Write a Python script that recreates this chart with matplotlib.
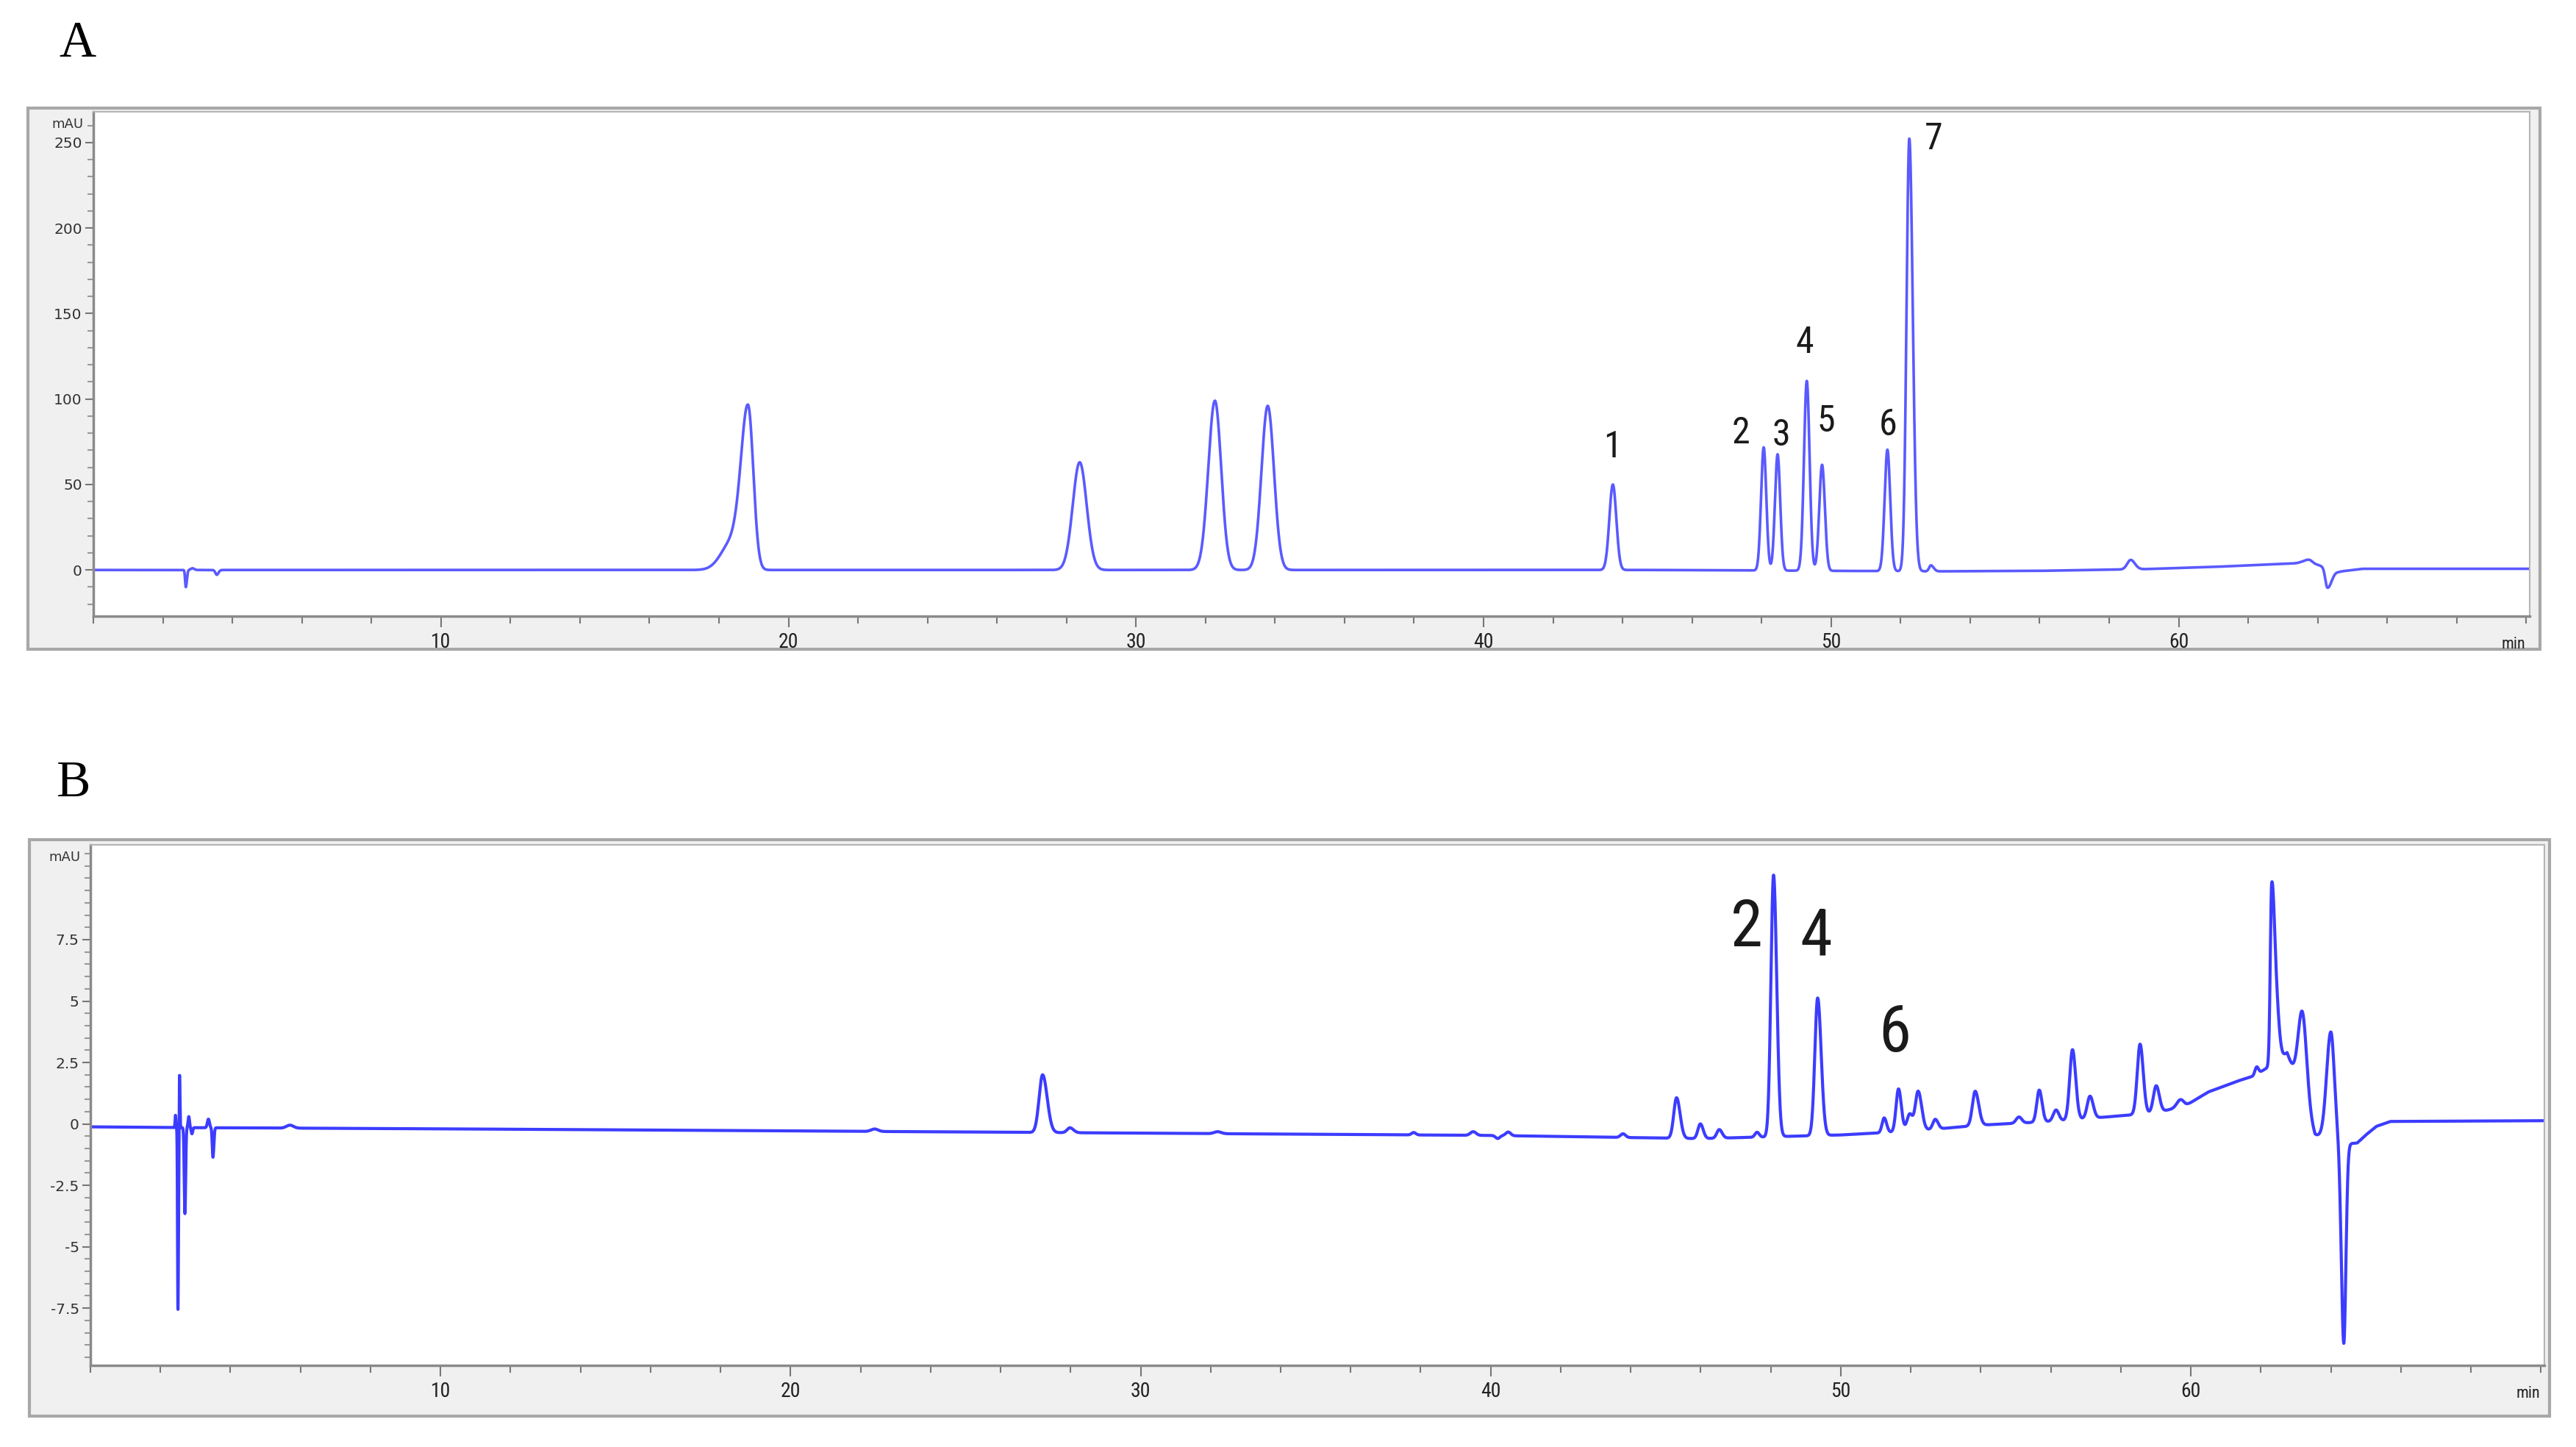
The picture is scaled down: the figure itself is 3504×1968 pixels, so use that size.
import numpy as np
import matplotlib.pyplot as plt
from matplotlib import font_manager
from matplotlib.patches import Rectangle
from matplotlib.ticker import MultipleLocator

# ---- panel A: peak table (retention time min, height mAU, left/right width min)
a_rt = [2.66, 2.85, 3.55, 18.40, 18.84, 28.38, 32.27, 33.79, 43.72,
        48.06, 48.46, 49.30, 49.74, 51.62, 52.25, 52.87, 58.62, 63.75, 64.28]
a_h = [-10, 1.0, -2.8, 17, 93, 63, 99, 96, 50,
       72, 68, 111, 62, 71, 253, 3.5, 5.5, 2.5, -11.5]
a_wl = [0.02, 0.05, 0.04, 0.32, 0.20, 0.20, 0.19, 0.18, 0.10,
        0.075, 0.075, 0.08, 0.08, 0.08, 0.08, 0.05, 0.10, 0.15, 0.06]
a_wr = [0.03, 0.05, 0.05, 0.25, 0.15, 0.20, 0.18, 0.18, 0.10,
        0.075, 0.075, 0.08, 0.08, 0.08, 0.10, 0.08, 0.12, 0.10, 0.12]
a_base_t = [0, 45, 53, 56, 59, 61, 63.5, 64.0, 64.6, 65.3, 70.1]
a_base_v = [0, 0, -0.8, -0.5, 0.5, 1.8, 4.0, 3.0, -1.0, 0.7, 0.7]

a_lab = ["1", "2", "3", "4", "5", "6", "7"]
a_lab_t = [43.72, 47.40, 48.57, 49.24, 49.85, 51.64, 52.96]
a_lab_v = [72, 80, 79, 133, 87, 85, 252]

# ---- panel B
b_rt = [2.43, 2.50, 2.545, 2.70, 2.81, 2.90, 3.37, 3.50, 5.7, 22.4,
        27.2, 27.98, 32.2, 37.8, 39.5, 40.2, 40.5, 43.78, 45.31, 45.99,
        46.53, 47.61, 48.08, 49.34, 51.24, 51.65, 51.97, 52.21, 52.70, 53.84,
        55.09, 55.67, 56.15, 56.62, 57.12, 58.55, 59.01, 59.70, 61.88, 62.31,
        62.45, 63.19, 64.00, 64.37]
b_h = [0.5, -7.4, 2.2, -3.5, 0.45, -0.25, 0.35, -1.2, 0.12, 0.1,
       2.35, 0.2, 0.08, 0.1, 0.15, -0.12, 0.15, 0.15, 1.65, 0.6,
       0.35, 0.2, 10.65, 5.6, 0.6, 1.75, 0.7, 1.6, 0.4, 1.4,
       0.25, 1.3, 0.45, 2.85, 0.9, 2.85, 1.1, 0.3, 0.3, 7.0,
       1.8, 3.5, 4.35, -8.2]
b_wl = [0.012, 0.012, 0.010, 0.02, 0.02, 0.02, 0.03, 0.02, 0.1, 0.1,
        0.10, 0.08, 0.10, 0.06, 0.08, 0.06, 0.07, 0.07, 0.08, 0.07,
        0.07, 0.06, 0.075, 0.08, 0.06, 0.07, 0.08, 0.08, 0.07, 0.08,
        0.08, 0.07, 0.08, 0.08, 0.08, 0.08, 0.08, 0.10, 0.05, 0.04,
        0.08, 0.12, 0.12, 0.07]
b_wr = [0.012, 0.015, 0.012, 0.02, 0.02, 0.02, 0.03, 0.025, 0.1, 0.1,
        0.13, 0.10, 0.10, 0.06, 0.08, 0.06, 0.07, 0.07, 0.10, 0.08,
        0.08, 0.06, 0.09, 0.10, 0.07, 0.08, 0.08, 0.10, 0.08, 0.10,
        0.08, 0.08, 0.08, 0.09, 0.09, 0.09, 0.09, 0.10, 0.05, 0.08,
        0.08, 0.12, 0.10, 0.06]
b_base_t = [0, 2.4, 10, 25, 40, 46, 50, 52, 54, 56, 58, 59.0, 59.85, 60.5,
            61.35, 61.8, 62.2, 62.75, 63.55, 64.55, 64.75, 65.0, 65.3, 65.7, 70.1]
b_base_v = [-0.12, -0.15, -0.2, -0.33, -0.47, -0.6, -0.45, -0.3, -0.05, 0.1,
            0.33, 0.45, 0.74, 1.3, 1.75, 1.95, 2.3, 2.9, -0.45, -0.8, -0.78,
            -0.45, -0.1, 0.1, 0.13]

b_lab = ["2", "4", "6"]
b_lab_t = [47.32, 49.30, 51.55]
b_lab_v = [7.96, 7.56, 3.68]

t = np.linspace(0, 70.1, 70101)


def chrom(rt, h, wl, wr, bt, bv):
    y = np.interp(t, bt, bv)
    for r, hh, l, w in zip(rt, h, wl, wr):
        s = np.where(t < r, l, w)
        y = y + hh * np.exp(-0.5 * ((t - r) / s) ** 2)
    return y


# pick a condensed face if one is installed
have = {f.name for f in font_manager.fontManager.ttflist}
cond = [f for f in font_manager.fontManager.ttflist
        if f.name == "DejaVu Sans" and f.stretch in ("condensed", 500 - 125)]
narrow_kw = {"family": ["DejaVu Sans"]}
for nm in ["Liberation Sans Narrow", "Roboto Condensed", "Open Sans Condensed",
           "Noto Sans Condensed", "DejaVu Sans Condensed"]:
    if nm in have:
        narrow_kw = {"family": [nm, "DejaVu Sans"]}
        break
else:
    if cond:
        narrow_kw = {"family": ["DejaVu Sans"], "stretch": "condensed"}

W, H = 3504, 1968
fig = plt.figure(figsize=(W / 100, H / 100), dpi=100)


def frame(l, tp, r, b):
    fig.add_artist(Rectangle((l / W, 1 - b / H), (r - l) / W, (b - tp) / H,
                             transform=fig.transFigure, facecolor="#f0f0f0",
                             edgecolor="#a8a8a8", lw=3, zorder=0))


def panel(l, tp, r, b):
    ax = fig.add_axes([l / W, 1 - b / H, (r - l) / W, (b - tp) / H])
    ax.set_facecolor("white")
    for s in ["left", "bottom"]:
        ax.spines[s].set_color("#8a8a8a")
        ax.spines[s].set_linewidth(2.5)
    for s in ["top", "right"]:
        ax.spines[s].set_color("#b5b5b5")
        ax.spines[s].set_linewidth(1.5)
    ax.tick_params(axis="x", which="major", length=11, width=1.5, color="#777777",
                   labelsize=20, labelcolor="#222222", pad=5)
    ax.tick_params(axis="x", which="minor", length=7, width=1.5, color="#777777")
    ax.tick_params(axis="y", which="major", length=8, width=1.5, color="#777777",
                   labelsize=14.5, labelcolor="#333333", pad=3)
    ax.tick_params(axis="y", which="minor", length=6, width=1.5, color="#999999")
    ax.set_xlim(0, 70.1)
    ax.set_xticks([10, 20, 30, 40, 50, 60])
    ax.xaxis.set_minor_locator(MultipleLocator(2))
    for lb in ax.get_xticklabels():
        lb.set(**narrow_kw)
    ax.annotate("min", xy=(1, 0), xycoords="axes fraction", xytext=(-4, -20),
                textcoords="offset points", ha="right", va="top",
                fontsize=16, color="#222222", **narrow_kw)
    ax.annotate("mAU", xy=(0, 1), xycoords="axes fraction", xytext=(-10, -6),
                textcoords="offset points", ha="right", va="top",
                fontsize=13, color="#333333")
    return ax


# ---- A
frame(38, 147, 3455, 883)
axA = panel(127, 152, 3441, 838)
yA = chrom(a_rt, a_h, a_wl, a_wr, a_base_t, a_base_v)
axA.plot(t, yA, color="#5a5aff", lw=2.6)
axA.set_ylim(-27, 268)
axA.set_yticks([0, 50, 100, 150, 200, 250])
axA.yaxis.set_minor_locator(MultipleLocator(10))
for s, x, v in zip(a_lab, a_lab_t, a_lab_v):
    axA.text(x, v, s, ha="center", va="center", fontsize=36,
             color="#1a1a1a", **narrow_kw)
fig.text(105 / W, 1 - 60 / H, "A", ha="center", va="center", fontsize=50,
         family=["Liberation Serif", "DejaVu Serif"])

# ---- B
frame(40, 1142, 3468, 1926)
axB = panel(123, 1149, 3461, 1857)
yB = chrom(b_rt, b_h, b_wl, b_wr, b_base_t, b_base_v)
axB.plot(t, yB, color="#3c3cff", lw=3.0)
axB.set_ylim(-9.83, 11.36)
axB.set_yticks([-7.5, -5, -2.5, 0, 2.5, 5, 7.5])
axB.set_yticklabels(["-7.5", "-5", "-2.5", "0", "2.5", "5", "7.5"])
axB.yaxis.set_minor_locator(MultipleLocator(0.5))
for s, x, v in zip(b_lab, b_lab_t, b_lab_v):
    axB.text(x, v, s, ha="center", va="center", fontsize=64,
             color="#1a1a1a", **narrow_kw)
fig.text(100 / W, 1 - 1066 / H, "B", ha="center", va="center", fontsize=50,
         family=["Liberation Serif", "DejaVu Serif"])

fig.savefig("out.png", dpi=100, facecolor="white")
